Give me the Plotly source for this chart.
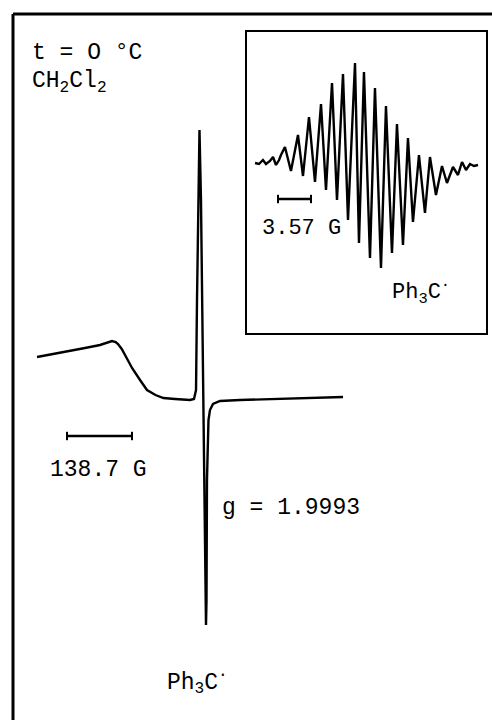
import plotly.graph_objects as go

# ---- main spectrum (field offset in G from g = 1.9993 line, intensity arb.) ----
main_field = [-347.8, -298.8, -245.4, -213.4, -187.8, -180.0, -175.0, -167.0, -160.1, -145.0,
              -128.0, -113.1, -95.0, -78.0, -53.4, -21.3, -12.8, -8.5, -6.4, -3.2, -1.1, 2.1,
              4.3, 6.4, 8.5, 10.7, 12.8, 13.9, 14.9, 18.1, 21.3, 27.7, 42.7, 85.4, 170.7, 305.2]
main_signal = [43, 47, 52, 55, 59, 58, 56, 51, 45, 32,
               20, 10, 5, 2, 1, 0, 1, 10, 100, 220, 270, 200,
               100, 0, -80, -180, -225, -200, -80, -20, -10, -4, -1, 0, 1, 3]

# ---- inset: Ph3C* hyperfine spectrum ----
inset_field = [-11.36, -10.93, -10.50, -10.17, -9.74, -9.41, -9.09, -8.76, -8.55, -8.12,
               -7.47, -6.71, -6.17, -5.52, -4.87, -4.22, -3.68, -3.03, -2.49, -1.84,
               -1.30, -0.54, -0.11, 0.43, 1.08, 1.62, 2.27, 2.81, 3.46, 4.00,
               4.65, 5.19, 5.73, 6.38, 7.03, 7.57, 8.22, 8.87, 9.41, 10.06,
               10.60, 11.04, 11.47, 11.90, 12.33, 12.77]
inset_signal = [2, 1, 5, 1, 4, 8, 0, 5, 10, 18,
                -6, 30, -11, 48, -17, 61, -25, 82, -35, 91,
                -55, 102, -78, 93, -93, 77, -103, 59, -88, 41,
                -80, 27, -57, 10, -48, 8, -30, -1, -18, -2,
                -10, 3, -5, 1, -1, 0]

main_bar_G = 138.7
inset_bar_G = 3.57

W, H = 492, 720
FONT = "Liberation Mono, Courier New, monospace"

def px(x):
    return x / W

def py(y):
    return 1 - y / H

fig = go.Figure()

# main spectrum
fig.add_trace(go.Scatter(x=main_field, y=main_signal, mode="lines",
                         line=dict(color="black", width=2.4), xaxis="x", yaxis="y",
                         hoverinfo="skip"))
# main scale bar
mb0 = -283.8
fig.add_trace(go.Scatter(x=[mb0, mb0 + main_bar_G], y=[-36, -36], mode="lines+markers",
                         line=dict(color="black", width=2.5),
                         marker=dict(symbol="line-ns", size=6, line=dict(width=2, color="black")),
                         xaxis="x", yaxis="y", hoverinfo="skip"))

# inset spectrum
fig.add_trace(go.Scatter(x=inset_field, y=inset_signal, mode="lines",
                         line=dict(color="black", width=2.4), xaxis="x2", yaxis="y2",
                         hoverinfo="skip"))
ib0 = -8.87
fig.add_trace(go.Scatter(x=[ib0, ib0 + inset_bar_G], y=[-34, -34], mode="lines+markers",
                         line=dict(color="black", width=2.5),
                         marker=dict(symbol="line-ns", size=6, line=dict(width=2, color="black")),
                         xaxis="x2", yaxis="y2", hoverinfo="skip"))

inset_x0, inset_x1, inset_y0, inset_y1 = 247, 486, 32, 333

fig.update_layout(
    width=W, height=H, margin=dict(l=0, r=0, t=0, b=0),
    paper_bgcolor="white", plot_bgcolor="rgba(0,0,0,0)", showlegend=False,
    xaxis=dict(domain=[0, 1], range=[(0 - 200) * 2.134, (W - 200) * 2.134], visible=False),
    yaxis=dict(domain=[0, 1], range=[400 - H, 400], visible=False),
    xaxis2=dict(domain=[px(inset_x0), px(inset_x1)], anchor="y2",
                range=[(inset_x0 - 360) * 0.1082, (inset_x1 - 360) * 0.1082],
                showline=True, mirror=True, linecolor="black", linewidth=2,
                showticklabels=False, ticks="", showgrid=False, zeroline=False),
    yaxis2=dict(domain=[py(inset_y1), py(inset_y0)], anchor="x2",
                range=[165 - inset_y1, 165 - inset_y0],
                showline=True, mirror=True, linecolor="black", linewidth=2,
                showticklabels=False, ticks="", showgrid=False, zeroline=False),
)

# outer frame (left and top edges)
fig.add_shape(type="line", xref="paper", yref="paper", x0=px(13), x1=px(13), y0=-0.05, y1=py(14),
              line=dict(color="black", width=3))
fig.add_shape(type="line", xref="paper", yref="paper", x0=px(13), x1=1.05, y0=py(14), y1=py(14),
              line=dict(color="black", width=3))

def label(text, x, y, size=23):
    fig.add_annotation(text=text, x=px(x), y=py(y), xref="paper", yref="paper",
                       xanchor="left", yanchor="middle", showarrow=False,
                       font=dict(family=FONT, size=size, color="black"))

label("t = O °C", 30, 53)
label("CH<sub>2</sub>Cl<sub>2</sub>", 30, 82)
label("138.7 G", 48, 470)
label("g = 1.9993", 220, 508)
label("Ph<sub>3</sub>C<sup>·</sup>", 165, 682)
label("3.57 G", 260, 228, size=22)
label("Ph<sub>3</sub>C<sup>·</sup>", 390, 292, size=22)

fig.write_html("out.html", config={"displayModeBar": False},
               post_script="document.body.style.margin='0';document.body.style.padding='0';")
